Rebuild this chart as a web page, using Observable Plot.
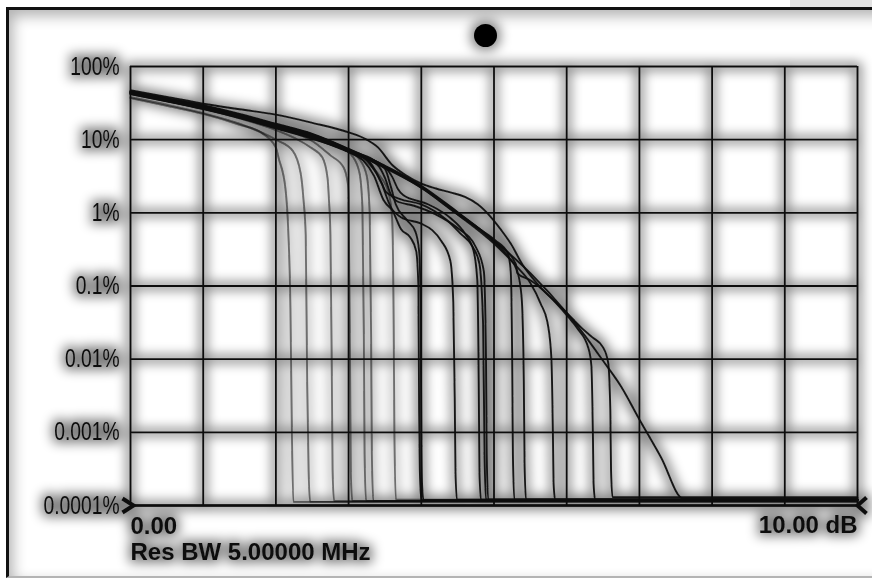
<!DOCTYPE html>
<html><head><meta charset="utf-8">
<script src="https://cdn.jsdelivr.net/npm/d3@7"></script>
<script src="https://cdn.jsdelivr.net/npm/@observablehq/plot@0.6"></script>
<style>
html,body{margin:0;padding:0;background:#fff;}
#wrap{position:relative;width:872px;height:578px;overflow:hidden;background:#fff;}
#strip{position:absolute;left:790px;top:0;width:82px;height:7px;background:#e2e2e2;}
#frame{position:absolute;left:6px;top:7px;width:890px;height:566px;border-left:3px solid #111;border-top:3px solid #111;border-bottom:2px solid #b4b4b4;box-shadow:inset 4px 6px 14px rgba(0,0,0,0.30);}
#chart{position:absolute;left:0;top:0;}
</style></head>
<body>
<div id="wrap"><div id="strip"></div><div id="frame"></div><div id="chart"></div></div>
<script>
// ---- axis definitions ----
const xDomain = [0, 10];                      // dB
const yDomain = [0.0001, 100];                // percent
const xGrid = [0,1,2,3,4,5,6,7,8,9,10];
const yTicks = [100, 10, 1, 0.1, 0.01, 0.001, 0.0001];
const yTickLabels = ["100%", "10%", "1%", "0.1%", "0.01%", "0.001%", "0.0001%"];
const xEndLabels = ["0.00", "10.00 dB"];
const rbwLabel = "Res BW 5.00000 MHz";

// ---- CCDF traces: [dB, percent] ----
const trace00 = [[0,46],[0.5,37],[1,29.5],[1.5,22.5],[2,16.5],[2.5,12],[3,7.5],[3.5,4.4],[4,2.35],[4.5,1.02],[5,0.42],[5.5,0.15],[6,0.043],[6.25,0.021],[6.5,0.0095],[6.75,0.0042],[7,0.0015],[7.3,0.00045],[7.6,0.000125],[10,0.000125]];
const trace01 = [[0,47.5],[0.5,38.5],[1,31],[1.5,26],[2,22],[2.5,17],[3,12.6],[3.25,10],[3.4,7.9],[3.6,4.5],[3.8,3.2],[4,2.5],[4.2,2.15],[4.4,1.9],[4.6,1.65],[4.78,1.3],[4.96,0.87],[5.1,0.58],[5.23,0.38],[5.4,0.19],[5.64,0.096],[5.85,0.06],[6,0.043],[6.2,0.027],[6.35,0.02],[6.5,0.0145],[6.57,0.009],[6.6,0.002],[6.61,0.0003],[6.63,0.00013],[10,0.00013]];
const trace02 = [[0,45.5],[0.5,36.5],[1,29],[1.5,22],[2,16],[2.5,11.8],[3,7.4],[3.5,4.35],[4,2.3],[4.5,1.0],[5,0.41],[5.3,0.2],[5.32,0.15],[5.5,0.12],[6,0.04],[6.15,0.026],[6.3,0.014],[6.34,0.008],[6.36,0.001],[6.37,0.0002],[6.39,0.00012],[10,0.00012]];
const trace03 = [[0,45],[0.5,36],[1,28.5],[1.5,21.5],[2,15.8],[2.5,11.5],[3,7.2],[3.5,4.2],[4,2.2],[4.5,0.95],[5,0.38],[5.3,0.19],[5.5,0.11],[5.64,0.058],[5.74,0.03],[5.79,0.01],[5.81,0.001],[5.82,0.0002],[5.84,0.00012],[10,0.00012]];
const trace04 = [[0,44.5],[0.5,35.5],[1,28],[1.5,21],[2,15.5],[2.5,11.2],[3,7.1],[3.5,4.2],[4,2.25],[4.5,1.0],[5,0.4],[5.2,0.25],[5.32,0.16],[5.38,0.07],[5.41,0.005],[5.42,0.0004],[5.44,0.00012],[10,0.00012]];
const trace05 = [[0,44],[0.5,35],[1,27.5],[1.5,20.8],[2,15.2],[2.5,11],[3,7],[3.5,4.1],[4,2.2],[4.5,0.95],[4.8,0.6],[5.02,0.42],[5.19,0.28],[5.23,0.16],[5.25,0.01],[5.26,0.0005],[5.28,0.00012],[10,0.00012]];
const trace06 = [[0,43.5],[0.5,34.5],[1,27],[1.5,20.5],[2,15],[2.5,10.8],[3,7],[3.3,4.8],[3.45,2.6],[3.52,1.9],[3.7,1.55],[4,1.3],[4.17,1.07],[4.35,0.8],[4.54,0.52],[4.71,0.34],[4.8,0.2],[4.85,0.03],[4.87,0.0005],[4.89,0.00012],[10,0.00012]];
const trace07 = [[0,43],[0.5,34],[1,26.8],[1.5,20.2],[2,14.8],[2.5,10.6],[3,6.9],[3.4,4.5],[3.5,3.0],[3.58,1.8],[3.66,1.45],[3.9,1.25],[4.2,0.95],[4.5,0.62],[4.75,0.34],[4.86,0.16],[4.89,0.01],[4.9,0.0005],[4.92,0.00012],[10,0.00012]];
const trace08 = [[0,42.5],[0.5,33.8],[1,26.5],[1.5,20],[2,14.5],[2.5,10.5],[3,6.8],[3.5,4.2],[3.6,3.1],[3.68,2.1],[3.75,1.75],[4.1,1.3],[4.4,0.85],[4.6,0.52],[4.72,0.3],[4.77,0.12],[4.79,0.005],[4.8,0.0003],[4.82,0.00012],[10,0.00012]];
const trace09 = [[0,42],[0.5,33.5],[1,26.2],[1.5,19.8],[2,14.3],[2.5,10.3],[3,6.8],[3.2,5.2],[3.35,3.2],[3.48,1.5],[3.6,1.1],[3.72,0.87],[4,0.71],[4.15,0.58],[4.27,0.42],[4.4,0.22],[4.44,0.06],[4.46,0.003],[4.47,0.0003],[4.49,0.00012],[10,0.00012]];
const trace10 = [[0,45],[0.5,36],[1,28.8],[1.5,22],[2,16.2],[2.5,11.8],[3,7.2],[3.3,4.6],[3.45,2.6],[3.55,1.4],[3.62,1.0],[3.72,0.6],[3.85,0.46],[3.93,0.3],[3.96,0.1],[3.97,0.002],[3.98,0.0003],[4,0.000118],[10,0.000118]];
const trace11 = [[0,44.8],[0.5,35.8],[1,28.5],[1.5,21.8],[2,16],[2.5,11.6],[3,7.3],[3.5,4.0],[3.58,2.3],[3.65,1.3],[3.8,0.8],[3.92,0.55],[3.97,0.3],[3.99,0.06],[4.0,0.001],[4.01,0.0002],[4.03,0.000118],[10,0.000118]];
const trace12 = [[0,44.2],[0.5,35.2],[1,27.8],[1.5,21.2],[2,15.5],[2.5,11.2],[3,6.8],[3.3,4.4],[3.45,3.0],[3.55,1.9],[3.6,0.8],[3.62,0.03],[3.63,0.001],[3.65,0.00012],[10,0.00012]];
const trace13 = [[0,43.8],[0.5,34.8],[1,27.3],[1.5,20.8],[2,15.2],[2.5,11],[3,7],[3.15,5.4],[3.25,3.2],[3.29,1.0],[3.31,0.02],[3.32,0.0005],[3.34,0.000115],[10,0.000115]];
const trace14 = [[0,43.4],[0.5,34.4],[1,27],[1.5,20.4],[2,14.8],[2.5,10.6],[2.9,7.8],[3.05,6.0],[3.15,3.5],[3.19,1.2],[3.21,0.02],[3.22,0.0005],[3.24,0.000115],[10,0.000115]];
const trace15 = [[0,42],[0.5,33.5],[1,26.5],[1.5,20],[2,14.5],[2.5,9.6],[2.75,6.1],[2.93,4.2],[2.99,2.5],[3.0,1.5],[3.02,0.01],[3.03,0.0003],[3.05,0.000115],[10,0.000115]];
const trace16 = [[0,42.5],[0.5,34],[1,26.5],[1.5,19.5],[2,13.5],[2.3,10],[2.48,7.8],[2.64,5.7],[2.71,3.0],[2.73,1.5],[2.75,0.5],[2.77,0.005],[2.78,0.0003],[2.8,0.000115],[10,0.000115]];
const trace17 = [[0,38],[0.5,30],[1,23],[1.5,16.5],[2,10],[2.23,7.1],[2.34,3.5],[2.38,1.5],[2.41,0.5],[2.43,0.005],[2.45,0.0003],[2.47,0.000112],[10,0.000112]];
const trace18 = [[0,37],[0.5,29],[1,22.5],[1.5,16],[1.79,12.6],[2.0,7.8],[2.04,5.5],[2.13,2.2],[2.17,0.57],[2.2,0.05],[2.22,0.001],[2.24,0.000112],[10,0.000112]];

const traces = [trace00,trace01,trace02,trace03,trace04,trace05,trace06,trace07,trace08,trace09,
                trace10,trace11,trace12,trace13,trace14,trace15,trace16,trace17,trace18];

const rows = [];
traces.forEach((t, id) => t.forEach(([db, pct]) => rows.push({id, db, pct})));

const labelOf = new Map(yTicks.map((t, i) => [t, yTickLabels[i]]));

// chevron symbols for the bottom axis ends
const chevronRight = {draw(ctx) { ctx.moveTo(-8, -7); ctx.lineTo(3, 0); ctx.lineTo(-8, 7); }};
const chevronLeft  = {draw(ctx) { ctx.moveTo(9, -8); ctx.lineTo(0, 0); ctx.lineTo(9, 8); }};

const regularFont = "'Liberation Sans',Arial,sans-serif";
const boldFont = "'Liberation Sans',Arial,sans-serif";
const ink = "#111";

const plot = Plot.plot({
  width: 872, height: 578,
  marginLeft: 130, marginRight: 15, marginTop: 66, marginBottom: 73,
  style: {background: "transparent", color: ink, overflow: "visible"},
  x: {domain: xDomain, axis: null},
  y: {type: "log", domain: yDomain, axis: null},
  marks: [
    Plot.gridX(xGrid, {stroke: ink, strokeOpacity: 1, strokeWidth: 1.8}),
    Plot.gridY(yTicks, {stroke: ink, strokeOpacity: 1, strokeWidth: 1.8}),
    Plot.line(rows, {x: "db", y: "pct", z: "id", curve: "monotone-x",
      stroke: ink, strokeOpacity: d => d.id >= 12 ? 0.55 : 0.95, strokeWidth: 1.9}),
    Plot.ruleY([yDomain[0]], {stroke: ink, strokeWidth: 2.5}),
    Plot.axisY(yTicks, {tickSize: 0, tickPadding: 11, tickFormat: d => labelOf.get(d),
      fontSize: 25, fontFamily: regularFont, fill: ink, label: null, className: "ylab"}),
    Plot.dot([xDomain[0]], {x: d => d, y: () => yDomain[0], symbol: chevronRight, r: 8,
      fill: "none", stroke: ink, strokeWidth: 4}),
    Plot.dot([xDomain[1]], {x: d => d, y: () => yDomain[0], symbol: chevronLeft, r: 8,
      fill: "none", stroke: ink, strokeWidth: 4}),
    Plot.text([xEndLabels[0]], {x: () => xDomain[0], y: () => yDomain[0], text: d => d,
      textAnchor: "start", lineAnchor: "top", dy: 11, fontSize: 24, fontWeight: "bold", fontFamily: boldFont, fill: ink}),
    Plot.text([xEndLabels[1]], {x: () => xDomain[1], y: () => yDomain[0], text: d => d,
      textAnchor: "end", lineAnchor: "top", dy: 10, fontSize: 24, fontWeight: "bold", fontFamily: boldFont, fill: ink}),
    Plot.text([rbwLabel], {x: () => xDomain[0], y: () => yDomain[0], text: d => d,
      textAnchor: "start", lineAnchor: "top", dy: 37, fontSize: 24, fontWeight: "bold", fontFamily: boldFont, fill: ink}),
    Plot.dot([yDomain[1]], {x: () => (xDomain[0] + xDomain[1]) / 2, y: d => d, dx: -8.5, dy: -31,
      r: 11.5, fill: "#000", stroke: "none"})
  ]
});

// condensed look of the instrument's labels: squeeze them horizontally
plot.querySelectorAll(".ylab text").forEach(t => {
  const tr = t.getAttribute("transform") || "";
  if (!/scale/.test(tr)) t.setAttribute("transform", tr + " scale(0.77,1)");
});

// soft grey halo around every drawn element, as on the instrument screenshot
const ns = "http://www.w3.org/2000/svg";
const defs = document.createElementNS(ns, "defs");
defs.innerHTML = `<filter id="glow" filterUnits="userSpaceOnUse" x="0" y="0" width="872" height="578">
  <feMorphology in="SourceAlpha" operator="dilate" radius="2.5" result="d"/>
  <feGaussianBlur in="d" stdDeviation="6" result="b"/>
  <feComponentTransfer in="b" result="s"><feFuncA type="linear" slope="0.5"/></feComponentTransfer>
  <feMerge><feMergeNode in="s"/><feMergeNode in="SourceGraphic"/></feMerge>
</filter>`;
const g = document.createElementNS(ns, "g");
g.setAttribute("filter", "url(#glow)");
while (plot.firstChild) {
  const c = plot.firstChild;
  if (c.tagName && c.tagName.toLowerCase() === "style") { plot.removeChild(c); defs.appendChild(c); continue; }
  g.appendChild(c);
}
plot.appendChild(defs);
plot.appendChild(g);
document.getElementById("chart").appendChild(plot);
</script>
</body></html>
